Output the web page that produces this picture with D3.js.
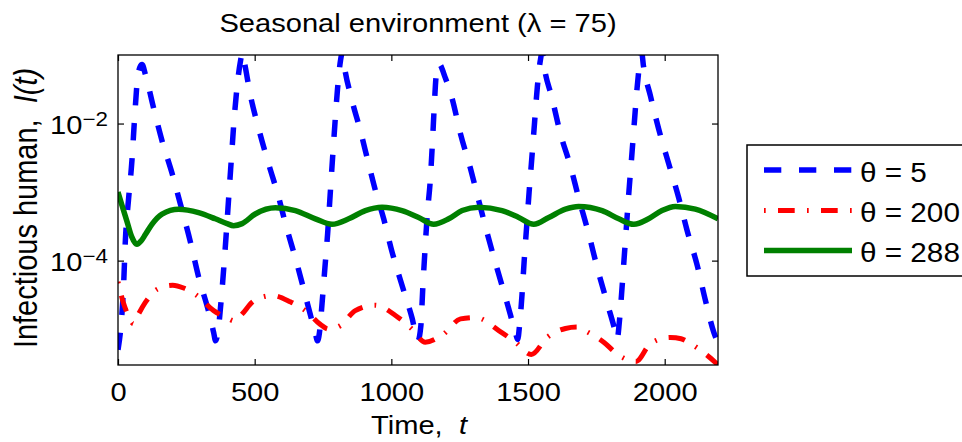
<!DOCTYPE html>
<html>
<head>
<meta charset="utf-8">
<script src="https://cdn.jsdelivr.net/npm/d3@7"></script>
<style>
  body { margin: 0; background: #fff; }
  text { font-family: "Liberation Sans", Arial, Helvetica, sans-serif; fill: #000; white-space: pre; }
</style>
</head>
<body>
<script>
// values: time t and log10 of I(t)
const blueT = [0, 12, 20, 27, 38, 51, 61, 70, 80, 88, 100, 130, 161, 198, 228, 265, 295, 332, 350, 357,
  367, 378, 388, 397, 406, 415, 424, 436, 448, 455, 462, 485, 515, 551, 588, 612, 655, 692, 722, 730,
  737, 747, 757, 767, 776, 785, 794, 803, 814, 821, 828, 854, 887, 917, 942, 972, 1003, 1039, 1076, 1097,
  1108, 1115, 1123, 1132, 1142, 1150, 1157, 1164, 1174, 1198, 1222, 1253, 1289, 1320, 1350, 1387, 1423, 1454, 1462,
  1470, 1478, 1486, 1495, 1504, 1514, 1524, 1534, 1545, 1552, 1558, 1588, 1618, 1655, 1685, 1722, 1753, 1789, 1820, 1826,
  1834, 1842, 1851, 1860, 1869, 1879, 1889, 1899, 1910, 1916, 1922, 1948, 1978, 2015, 2051, 2082, 2119, 2149, 2180, 2195];
const blueLog = [-5.3, -4.9, -4.4, -3.7, -3.13, -2.54, -1.9, -1.4, -1.18, -1.14, -1.28, -1.77, -2.25, -2.73, -3.17, -3.73, -4.24, -4.75, -5.05, -5.17,
  -5.0, -4.55, -4.05, -3.55, -3.02, -2.5, -1.98, -1.45, -1.09, -0.97, -1.1, -1.6, -2.08, -2.59, -3.08, -3.45, -4.05, -4.61, -5.06, -5.17,
  -5.05, -4.6, -4.1, -3.6, -3.05, -2.5, -1.98, -1.5, -1.08, -0.96, -1.16, -1.63, -2.11, -2.59, -2.98, -3.39, -3.88, -4.36, -4.84, -5.17,
  -4.95, -4.4, -3.85, -3.3, -2.85, -2.3, -1.75, -1.3, -1.13, -1.34, -1.63, -2.15, -2.65, -3.13, -3.59, -4.12, -4.61, -5.05, -5.15,
  -4.9, -4.5, -4.0, -3.5, -3.0, -2.5, -1.98, -1.47, -1.08, -0.96, -1.14, -1.63, -2.14, -2.62, -3.08, -3.61, -4.1, -4.61, -5.05, -5.15,
  -4.9, -4.5, -4.0, -3.5, -3.0, -2.5, -1.98, -1.48, -1.08, -0.97, -1.15, -1.6, -2.08, -2.59, -3.08, -3.56, -4.07, -4.58, -5.05, -5.2];

const redT = [0, 20, 40, 57, 75, 100, 143, 200, 240, 289, 350, 400, 425, 454, 490, 530, 565, 630, 692, 740,
  770, 813, 868, 940, 1015, 1076, 1124, 1191, 1253, 1310, 1393, 1454, 1512, 1570, 1637, 1680, 1712, 1777, 1832, 1895,
  1948, 2021, 2060, 2094, 2155, 2195];
const redLog = [-4.31, -4.62, -4.82, -4.92, -4.78, -4.61, -4.42, -4.36, -4.4, -4.51, -4.73, -4.84, -4.88, -4.78, -4.61, -4.53, -4.51, -4.6, -4.75, -4.93,
  -5.0, -4.95, -4.73, -4.65, -4.8, -5.0, -5.19, -5.07, -4.85, -4.83, -5.02, -5.19, -5.37, -5.12, -4.99, -4.97, -5.03, -5.19, -5.38, -5.47,
  -5.21, -5.12, -5.14, -5.21, -5.38, -5.52];

const greenT = [0, 15, 33, 50, 69, 85, 100, 124, 161, 222, 295, 356, 399, 423, 454, 502, 576, 649, 722,
  783, 844, 905, 966, 1039, 1100, 1155, 1210, 1259, 1319, 1405, 1466,
  1521, 1576, 1637, 1685, 1771, 1832, 1887, 1941, 1990, 2039, 2112, 2195];
const greenLog = [-3.0, -3.2, -3.43, -3.65, -3.76, -3.71, -3.62, -3.47, -3.32, -3.25, -3.3, -3.39, -3.46, -3.49, -3.46, -3.32, -3.23, -3.27, -3.39,
  -3.47, -3.39, -3.27, -3.22, -3.27, -3.37, -3.47, -3.39, -3.27, -3.22, -3.27, -3.37,
  -3.47, -3.37, -3.25, -3.21, -3.27, -3.39, -3.47, -3.39, -3.27, -3.21, -3.25, -3.39];

const xTicks = [0, 500, 1000, 1500, 2000];
const yTicks = [1e-2, 1e-4];
const yTickExp = ['\u22122', '\u22124'];
const legendLabels = ['\u03b8 = 5', '\u03b8 = 200', '\u03b8 = 288'];

const width = 962, height = 442;
const plot = {left: 118, right: 718, top: 55, bottom: 365};
const stretch = 'scale(1.12,1)';

const svg = d3.select('body').append('svg')
  .attr('width', width)
  .attr('height', height);

const x = d3.scaleLinear().domain([0, 2195]).range([plot.left, plot.right]);
const y = d3.scaleLog().domain([3e-6, 0.1]).range([plot.bottom, plot.top]);

svg.append('clipPath').attr('id', 'clip')
  .append('rect')
  .attr('x', plot.left).attr('y', plot.top)
  .attr('width', plot.right - plot.left).attr('height', plot.bottom - plot.top);

const line = d3.line()
  .x(d => x(d.t))
  .y(d => y(d.v))
  .curve(d3.curveMonotoneX);

function pts(ts, logs) {
  return ts.map((t, i) => ({t: t, v: Math.pow(10, logs[i])}));
}

const series = [
  {data: pts(blueT, blueLog), color: '#0000ff', dash: '17.3,17.7', w: 5.5},
  {data: pts(redT, redLog), color: '#ff0000', dash: '1.7,12.3,16.7,12.3', w: 5},
  {data: pts(greenT, greenLog), color: '#008000', dash: null, w: 5.5}
];

const lines = svg.append('g').attr('clip-path', 'url(#clip)');
series.forEach(s => {
  lines.append('path')
    .datum(s.data)
    .attr('d', line)
    .attr('fill', 'none')
    .attr('stroke', s.color)
    .attr('stroke-width', s.w)
    .attr('stroke-dasharray', s.dash)
    .attr('stroke-linecap', 'butt')
    .attr('stroke-linejoin', 'round');
});

// axes, ticks pointing inward on all four sides
const gBottom = svg.append('g')
  .attr('transform', `translate(0,${plot.bottom})`)
  .call(d3.axisBottom(x).tickValues(xTicks).tickSize(-6).tickSizeOuter(0).tickFormat(d3.format('d')));
gBottom.selectAll('text')
  .attr('y', 0).attr('dy', null)
  .attr('transform', 'translate(0,36) ' + stretch)
  .style('font-size', '26px');

const gTop = svg.append('g')
  .attr('transform', `translate(0,${plot.top})`)
  .call(d3.axisTop(x).tickValues(xTicks).tickSize(-6).tickSizeOuter(0).tickFormat(''));

const gLeft = svg.append('g')
  .attr('transform', `translate(${plot.left},0)`)
  .call(d3.axisLeft(y).tickValues(yTicks).tickSize(-6).tickSizeOuter(0).tickFormat(''));

const gRight = svg.append('g')
  .attr('transform', `translate(${plot.right},0)`)
  .call(d3.axisRight(y).tickValues(yTicks).tickSize(-6).tickSizeOuter(0).tickFormat(''));

[gBottom, gTop, gLeft, gRight].forEach(g => {
  g.select('.domain').remove();
  g.selectAll('.tick line').attr('stroke', '#000').attr('stroke-width', 1.2);
});

// y tick labels as 10 with a superscript
const yLab = svg.append('g').selectAll('text')
  .data(yTicks)
  .enter()
  .append('text')
  .attr('transform', d => `translate(108,${y(d) + 10}) ${stretch}`)
  .attr('text-anchor', 'end')
  .style('font-size', '26px');
yLab.append('tspan').text('10');
yLab.append('tspan')
  .text((d, i) => yTickExp[i])
  .attr('dy', -8)
  .style('font-size', '20px');

svg.append('rect')
  .attr('x', plot.left).attr('y', plot.top)
  .attr('width', plot.right - plot.left).attr('height', plot.bottom - plot.top)
  .attr('fill', 'none')
  .attr('stroke', '#000')
  .attr('stroke-width', 1.3);

// title and axis labels
svg.append('text')
  .text('Seasonal environment (\u03bb = 75)')
  .attr('transform', `translate(${(plot.left + plot.right) / 2},32) ${stretch}`)
  .attr('text-anchor', 'middle')
  .style('font-size', '26px');

const xl = svg.append('text')
  .attr('transform', `translate(${(plot.left + plot.right) / 2 + 1},434) ${stretch}`)
  .attr('text-anchor', 'middle')
  .style('font-size', '26px');
xl.append('tspan').text('Time,  ');
xl.append('tspan').text('t').style('font-style', 'italic');

const yl = svg.append('text')
  .attr('transform', 'translate(37,208) rotate(-90) scale(1,1.12)')
  .attr('text-anchor', 'middle')
  .style('font-size', '29px');
yl.append('tspan').text('Infectious human,  ');
yl.append('tspan').text('I(t)').style('font-style', 'italic');

// legend
const legend = svg.append('g');
legend.append('rect')
  .attr('x', 747).attr('y', 145)
  .attr('width', 240).attr('height', 131)
  .attr('fill', '#fff')
  .attr('stroke', '#000')
  .attr('stroke-width', 1.5);

const rowY = [170, 210.5, 250.5];
series.forEach((s, i) => {
  legend.append('line')
    .attr('x1', 764).attr('x2', 852)
    .attr('y1', rowY[i]).attr('y2', rowY[i])
    .attr('stroke', s.color)
    .attr('stroke-width', s.w)
    .attr('stroke-dasharray', s.dash);
  legend.append('text')
    .text(legendLabels[i])
    .attr('transform', `translate(860,${rowY[i] + 11.5}) scale(1.1,1)`)
    .style('font-size', '27px');
});
</script>
</body>
</html>
